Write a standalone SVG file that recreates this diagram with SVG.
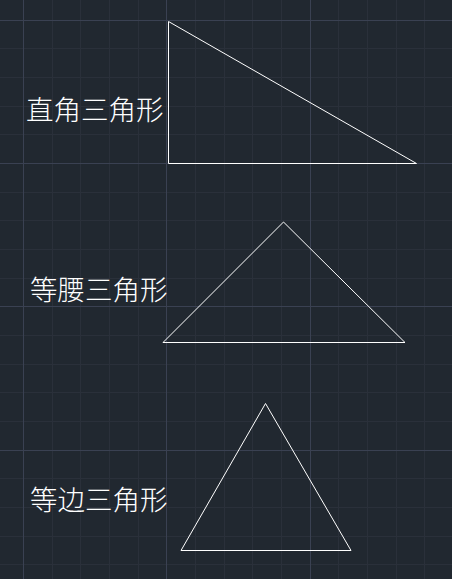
<svg xmlns="http://www.w3.org/2000/svg" width="452" height="579" viewBox="0 0 452 579">
<style>
.minor{stroke:#2a303a;stroke-width:1;fill:none}
.major{stroke:#3a4152;stroke-width:1;fill:none}
.shape{stroke:#ffffff;stroke-width:1;fill:none}
.label{fill:#ffffff;font-family:"Noto Sans CJK SC","Noto Sans CJK JP",sans-serif;font-size:27.5px;font-weight:300}
</style>
<rect width="452" height="579" fill="#212830"/>
<g id="grid">
<path class="minor" d="M52.5 0V579M80.5 0V579M109.5 0V579M138.5 0V579M195.5 0V579M224.5 0V579M252.5 0V579M281.5 0V579M338.5 0V579M367.5 0V579M396.5 0V579M424.5 0V579M0 48.5H452M0 77.5H452M0 106.5H452M0 134.5H452M0 192.5H452M0 220.5H452M0 249.5H452M0 278.5H452M0 335.5H452M0 364.5H452M0 392.5H452M0 421.5H452M0 478.5H452M0 507.5H452M0 536.5H452M0 564.5H452"/>
<path class="major" d="M23.5 0V579M166.5 0V579M310.5 0V579M0 20.5H452M0 163.5H452M0 306.5H452M0 450.5H452"/>
</g>
<g id="right-triangle">
<polygon class="shape" points="168.5,21.5 168.5,163.5 416.5,163.5"/>
<text class="label" x="26" y="120">直角三角形</text>
</g>
<g id="isosceles-triangle">
<polygon class="shape" points="283.5,222 163,342.5 405,342.5"/>
<text class="label" x="30" y="300">等腰三角形</text>
</g>
<g id="equilateral-triangle">
<polygon class="shape" points="265.5,403.5 181,550.5 351,550.5"/>
<text class="label" x="30" y="510">等边三角形</text>
</g>
<g id="connectors"></g>
</svg>
